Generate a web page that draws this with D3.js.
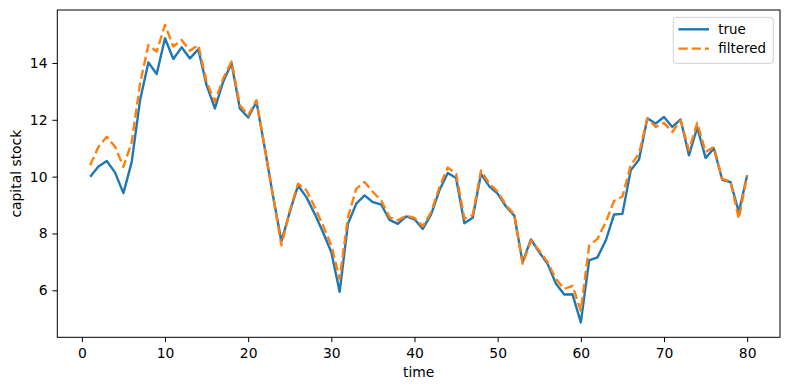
<!DOCTYPE html>
<html>
<head>
<meta charset="utf-8">
<script src="https://cdn.jsdelivr.net/npm/d3@7"></script>
<style>
  body { margin: 0; background: #fff; }
  text { font-family: "DejaVu Sans", sans-serif; fill: #000; }
</style>
</head>
<body>
<svg id="chart" width="790" height="390"></svg>
<script>
// time steps 1..80
var time = d3.range(1, 81);

// true capital stock
var trueStock = [
  10.00, 10.36, 10.55, 10.14, 9.42, 10.52, 12.69, 14.02, 13.61, 14.87,
  14.14, 14.55, 14.16, 14.48, 13.22, 12.40, 13.34, 13.99, 12.40, 12.08,
  12.63, 11.00, 9.30, 7.72, 8.75, 9.69, 9.28, 8.69, 8.04, 7.34,
  5.95, 8.34, 9.05, 9.34, 9.10, 9.02, 8.48, 8.34, 8.60, 8.50,
  8.16, 8.67, 9.52, 10.13, 9.95, 8.36, 8.55, 10.10, 9.66, 9.40,
  8.95, 8.63, 6.99, 7.79, 7.34, 6.93, 6.24, 5.85, 5.86, 4.87,
  7.05, 7.16, 7.75, 8.67, 8.69, 10.22, 10.60, 12.05, 11.87, 12.10,
  11.75, 12.01, 10.75, 11.73, 10.66, 10.99, 9.89, 9.81, 8.75, 10.05
];

// filtered estimate
var filtered = [
  10.40, 11.05, 11.40, 11.05, 10.34, 11.22, 13.28, 14.63, 14.40, 15.34,
  14.58, 14.81, 14.43, 14.63, 13.34, 12.63, 13.46, 14.05, 12.52, 12.16,
  12.69, 11.00, 9.30, 7.58, 8.80, 9.75, 9.52, 8.93, 8.28, 7.58,
  6.40, 8.57, 9.58, 9.81, 9.46, 9.16, 8.57, 8.46, 8.63, 8.55,
  8.25, 8.75, 9.63, 10.32, 10.10, 8.52, 8.65, 10.22, 9.75, 9.47,
  9.00, 8.67, 6.93, 7.75, 7.40, 6.99, 6.40, 6.05, 6.16, 5.28,
  7.57, 7.81, 8.40, 9.15, 9.30, 10.40, 10.81, 12.05, 11.75, 11.89,
  11.57, 11.98, 10.93, 11.89, 10.87, 11.05, 9.92, 9.83, 8.52, 10.05
];

var xTicks = [0, 10, 20, 30, 40, 50, 60, 70, 80];
var yTicks = [6, 8, 10, 12, 14];

var seriesNames = ["true", "filtered"];
var seriesColors = ["#1f77b4", "#ff7f0e"];

var svg = d3.select("#chart");
// plot area (note: "top" is taken by window.top, hence the names)
var plotLeft = 57.3, plotRight = 780, plotTop = 10, plotBottom = 337.3;
var fontSize = "13.9px";

// matplotlib-style 5% margins
var pad = function (ext) {
  var d = (ext[1] - ext[0]) * 0.05;
  return [ext[0] - d, ext[1] + d];
};

var x = d3.scaleLinear().domain(pad(d3.extent(time))).range([plotLeft, plotRight]);
var allVals = trueStock.concat(filtered);
var y = d3.scaleLinear().domain(pad(d3.extent(allVals))).range([plotBottom, plotTop]);

// axes
var xAxis = svg.append("g")
  .attr("transform", "translate(0," + plotBottom + ")")
  .call(d3.axisBottom(x).tickValues(xTicks).tickSize(4.9).tickPadding(5.5).tickFormat(d3.format("d")));
var yAxis = svg.append("g")
  .attr("transform", "translate(" + plotLeft + ",0)")
  .call(d3.axisLeft(y).tickValues(yTicks).tickSize(4.9).tickPadding(4.9).tickFormat(d3.format("d")));

[xAxis, yAxis].forEach(function (g) {
  g.select(".domain").remove();
  g.selectAll("line").attr("stroke", "#000").attr("stroke-width", 1);
  g.selectAll("text").style("font-family", "DejaVu Sans").style("font-size", fontSize).attr("fill", "#000");
});

// lines
var line = d3.line()
  .x(function (d, i) { return x(time[i]); })
  .y(function (d) { return y(d); });

svg.append("path")
  .datum(trueStock)
  .attr("d", line)
  .attr("fill", "none")
  .attr("stroke", seriesColors[0])
  .attr("stroke-width", 2.4)
  .attr("stroke-linejoin", "round");

svg.append("path")
  .datum(filtered)
  .attr("d", line)
  .attr("fill", "none")
  .attr("stroke", seriesColors[1])
  .attr("stroke-width", 2.4)
  .attr("stroke-dasharray", "9.2,4")
  .attr("stroke-linejoin", "round");

// frame
svg.append("rect")
  .attr("x", plotLeft).attr("y", plotTop)
  .attr("width", plotRight - plotLeft).attr("height", plotBottom - plotTop)
  .attr("fill", "none").attr("stroke", "#000").attr("stroke-width", 1);

// axis labels
svg.append("text")
  .attr("x", (plotLeft + plotRight) / 2).attr("y", 377)
  .attr("text-anchor", "middle")
  .style("font-size", fontSize)
  .text("time");

svg.append("text")
  .attr("transform", "translate(21," + (plotTop + plotBottom) / 2 + ") rotate(-90)")
  .attr("text-anchor", "middle")
  .style("font-size", fontSize)
  .text("capital stock");

// legend
var legend = svg.append("g");
legend.append("rect")
  .attr("x", 673.3).attr("y", 17.3)
  .attr("width", 100).attr("height", 46)
  .attr("rx", 3)
  .attr("fill", "#fff").attr("fill-opacity", 0.8)
  .attr("stroke", "#d0d0d0").attr("stroke-width", 1);

seriesNames.forEach(function (name, i) {
  var ly = 29.3 + i * 19.3;
  legend.append("line")
    .attr("x1", 678.5).attr("x2", 709)
    .attr("y1", ly).attr("y2", ly)
    .attr("stroke", seriesColors[i])
    .attr("stroke-width", 2.4)
    .attr("stroke-dasharray", i === 1 ? "9.2,4" : null);
  legend.append("text")
    .attr("x", 718.3).attr("y", ly)
    .attr("dy", "0.35em")
    .style("font-size", "13.4px")
    .text(name);
});
</script>
</body>
</html>
